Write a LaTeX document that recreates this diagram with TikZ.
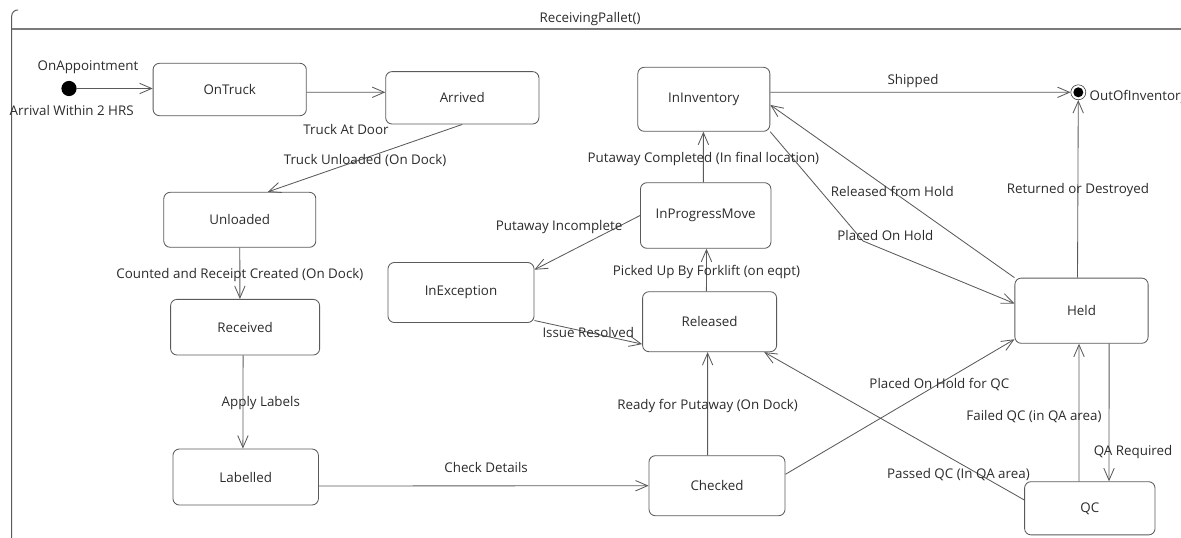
\documentclass[tikz,border=0pt]{standalone}
\usepackage{fontspec}
\setmainfont{Open Sans}
\usetikzlibrary{positioning,calc,arrows.meta}

\definecolor{linegray}{HTML}{5A5A5A}
\definecolor{textgray}{HTML}{2B2B2B}

\begin{document}
\begin{tikzpicture}[x=0.025cm,y=-0.025cm]
 \useasboundingbox (0,0) rectangle (1181,538);

\tikzstyle{lbl}=[font=\fontsize{9.5}{11}\selectfont,text=textgray,inner sep=1pt]
\tikzstyle{state}=[lbl,draw=linegray,line width=0.6pt,rounded corners=0.16cm]
\tikzstyle{trans}=[draw=linegray,line width=0.6pt,->,>={Straight Barb[length=3mm,width=2.6mm]}]

   %frame of the state machine
   \draw[linegray,line width=0.7pt,rounded corners=0.15cm] (11.7,545) -- (11.7,10) -- (18,10);
   \draw[linegray!80,line width=1.2pt] (11.7,29.3) -- (1190,29.3);
   \node (title) [lbl] at (590,19) {ReceivingPallet()};

   %start and end
   \node (init) [circle,fill=black,minimum size=0.38cm,inner sep=0pt] at (69,88.5) {};
   \node (appt_label) [lbl] at (88,67.5) {OnAppointment};

   \node (final) [circle,draw=black!80,fill=white,minimum size=0.375cm,inner sep=0pt] at (1078.3,92.3) {};
   \fill [black] (final.center) circle (0.125cm);
   \node (out_label) [lbl,anchor=west] at (1088,97) {OutOfInventory};

   %states
   \node (OnTruck) [state,minimum width=3.83cm,minimum height=1.31cm] at (229.7,89.5) {OnTruck};
   \node (Arrived) [state,minimum width=3.83cm,minimum height=1.31cm] at (462.3,97.8) {Arrived};
   \node (Unloaded) [state,minimum width=3.8cm,minimum height=1.375cm] at (239.8,219.8) {Unloaded};
   \node (Received) [state,minimum width=3.725cm,minimum height=1.39cm] at (245.1,327.2) {Received};
   \node (Labelled) [state,minimum width=3.635cm,minimum height=1.4cm] at (245.7,477) {Labelled};
   \node (Checked) [state,minimum width=3.4cm,minimum height=1.5cm] at (717,485.7) {Checked};
   \node (Released) [state,minimum width=3.35cm,minimum height=1.5cm] at (709.6,321.7) {Released};
   \node (InProgressMove) [state,minimum width=3.26cm,minimum height=1.64cm] at (705.7,215.5) {InProgressMove};
   \node (InInventory) [state,minimum width=3.3cm,minimum height=1.6cm] at (703.8,99.3) {InInventory};
   \node (InException) [state,minimum width=3.65cm,minimum height=1.5cm] at (461,292.5) {InException};
   \node (Held) [state,minimum width=3.33cm,minimum height=1.63cm] at (1081.5,310.7) {Held};
   \node (QC) [state,minimum width=3.26cm,minimum height=1.33cm] at (1089.8,508.3) {QC};

   %receiving
   \draw[trans] (init) -- (init -| OnTruck.west) node[lbl,at start,xshift=-0.13cm,yshift=-0.54cm] {Arrival Within 2 HRS};
   \draw[trans] ([yshift=-0.07cm]OnTruck.east) -- ([yshift=0.1375cm]Arrived.west) node[lbl,midway,yshift=-0.94cm] {Truck At Door};
   \draw[trans] (Arrived.south) -- ([xshift=0.7cm]Unloaded.north) node[lbl,midway,yshift=-0.06cm] {Truck Unloaded (On Dock)};
   \draw[trans] (Unloaded.south) -- ([xshift=-0.13cm]Received.north) node[lbl,midway,yshift=-0.04cm] {Counted and Receipt Created (On Dock)};
   \draw[trans] ([xshift=-0.05cm]Received.south) -- ([xshift=-0.07cm]Labelled.north) node[lbl,midway,xshift=0.445cm,yshift=-0.03cm] {Apply Labels};
   \draw[trans] ([yshift=-0.225cm]Labelled.east) -- (Checked.west) node[lbl,midway,xshift=0.06cm,yshift=0.46cm] {Check Details};

   %putaway
   \draw[trans] ([xshift=-0.235cm]Checked.north) -- ([xshift=-0.05cm]Released.south) node[lbl,midway,yshift=-0.06cm] {Ready for Putaway (On Dock)};
   \draw[trans] ([xshift=-0.08cm]Released.north) -- ([xshift=0.02cm]InProgressMove.south) node[lbl,midway,yshift=-0.04cm] {Picked Up By Forklift (on eqpt)};
   \draw[trans] ([xshift=-0.0575cm]InProgressMove.north) -- ([xshift=-0.01cm]InInventory.south) node[lbl,midway,yshift=-0.06cm] {Putaway Completed (In final location)};
   \draw[trans] (InProgressMove.west) -- ([yshift=0.57cm]InException.east) node[lbl,pos=0.767,yshift=0.74cm] {Putaway Incomplete};
   \draw[trans] ([yshift=-0.7cm]InException.east) -- ([yshift=-0.56cm]Released.west) node[lbl,midway] {Issue Resolved};

   %inventory and hold
   \draw[trans] ([yshift=0.175cm]InInventory.east) -- (final) node[lbl,midway,xshift=-0.185cm,yshift=0.29cm] {Shipped};
   \draw[trans] ([xshift=-0.1cm]Held.north) -- (final) node[lbl,midway,yshift=-0.03cm] {Returned or Destroyed};
   \draw[trans] (Held.north west) -- ([yshift=-0.14cm]InInventory.east) node[lbl,midway] {Released from Hold};
   \coordinate (hold_bend) at (863,241);
   \draw[trans] (InInventory.south east) -- (hold_bend) node[lbl,xshift=0.56cm,yshift=0.15cm] {Placed On Hold} -- ([yshift=0.18cm]Held.west);
   \draw[trans] ([yshift=0.285cm]Checked.east) -- ([yshift=-0.715cm]Held.west) node[lbl,pos=0.672,yshift=-0.035cm] {Placed On Hold for QC};

   %quality check
   \draw[trans] ([yshift=0.21cm]QC.west) -- ([xshift=-0.32cm]Released.south east) node[lbl,pos=0.253,yshift=-0.31cm] {Passed QC (In QA area)};
   \draw[trans] ([xshift=-0.27cm]QC.north) -- ([xshift=-0.0625cm]Held.south) node[lbl,midway,xshift=-1.125cm,yshift=-0.11cm] {Failed QC (in QA area)};
   \draw[trans] ([xshift=0.69cm]Held.south) -- ([xshift=0.48cm]QC.north) node[lbl,pos=0.79,xshift=0.6cm] {QA Required};

\end{tikzpicture}
\end{document}
